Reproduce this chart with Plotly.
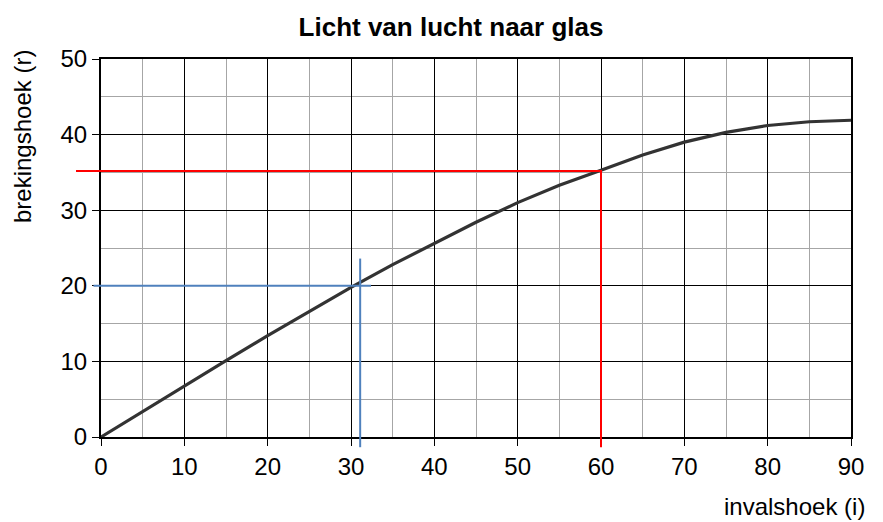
import plotly.graph_objects as go

# Data
incidence = [0, 5, 10, 15, 20, 25, 30, 35, 40, 45, 50, 55, 60, 65, 70, 75, 80, 85, 90]
refraction = [0, 3.4, 6.7, 10.1, 13.4, 16.6, 19.8, 22.8, 25.6, 28.4, 31.0, 33.3, 35.3, 37.3, 39.0, 40.3, 41.2, 41.7, 41.9]

red_i, red_r = 60, 35.2
blue_i, blue_r = 31.1, 20
blue_top = 23.6
blue_right = 32.4
red_left = -3.0
blue_left = -0.9
guide_bottom = -1.35

x_ticks = [0, 10, 20, 30, 40, 50, 60, 70, 80, 90]
y_ticks = [0, 10, 20, 30, 40, 50]

W, H = 883, 522
ML, MR, MT, MB = 50, 15, 30, 55
PX0, PX1, PY0, PY1 = 101, 851, 59, 437  # plot area pixel box
pw, ph = W - ML - MR, H - MT - MB
xd = [(PX0 - ML) / pw, (PX1 - ML) / pw]
yd = [(H - MB - PY1) / ph, (H - MB - PY0) / ph]

xr = [0, 90]
yr = [0, 50]


def ext(r, d):
    span = (r[1] - r[0]) / (d[1] - d[0])
    return [r[0] - d[0] * span, r[1] + (1 - d[1]) * span]


xr2 = ext(xr, xd)
yr2 = ext(yr, yd)

font = "Arial, Liberation Sans, sans-serif"
FS = 24

fig = go.Figure()
fig.add_trace(go.Scatter(x=incidence, y=refraction, mode="lines",
                         line=dict(color="#333333", width=3.2), hoverinfo="skip",
                         showlegend=False))

# guide lines on overlay axes (same scale, larger area so they are not clipped)
fig.add_trace(go.Scatter(x=[red_left, red_i, red_i], y=[red_r, red_r, guide_bottom],
                         mode="lines", line=dict(color="#ff0000", width=2),
                         xaxis="x2", yaxis="y2", showlegend=False, hoverinfo="skip"))
fig.add_trace(go.Scatter(x=[blue_left, blue_right], y=[blue_r, blue_r],
                         mode="lines", line=dict(color="#4f81bd", width=2),
                         xaxis="x2", yaxis="y2", showlegend=False, hoverinfo="skip"))
fig.add_trace(go.Scatter(x=[blue_i, blue_i], y=[blue_top, guide_bottom],
                         mode="lines", line=dict(color="#4f81bd", width=2),
                         xaxis="x2", yaxis="y2", showlegend=False, hoverinfo="skip"))

axis_common = dict(showline=True, linecolor="black", linewidth=2, mirror=True,
                   showgrid=True, gridcolor="black", gridwidth=1.3, automargin=False,
                   ticks="outside", ticklen=7, tickcolor="black", tickwidth=1,
                   zeroline=False, tickfont=dict(family=font, size=FS, color="black"),
                   minor=dict(dtick=5, showgrid=True, gridcolor="#a6a6a6", gridwidth=1.3, ticks=""))

fig.update_layout(
    width=W, height=H,
    margin=dict(l=ML, r=MR, t=MT, b=MB),
    paper_bgcolor="white", plot_bgcolor="rgba(0,0,0,0)",
    title=dict(text="<b>Licht van lucht naar glas</b>", x=451 / W, xanchor="center",
               y=1 - 27 / H, yanchor="middle", font=dict(family=font, size=26, color="black")),
    xaxis=dict(domain=xd, range=xr, tickvals=x_ticks, **axis_common),
    yaxis=dict(domain=yd, range=yr, tickvals=y_ticks, **axis_common),
    xaxis2=dict(domain=[0, 1], range=xr2, visible=False, anchor="y2", automargin=False),
    yaxis2=dict(domain=[0, 1], range=yr2, visible=False, anchor="x2", automargin=False),
    annotations=[
        dict(text="brekingshoek (r)", xref="paper", yref="paper",
             x=(22 - ML) / pw, y=(H - MB - 137) / ph, textangle=-90, showarrow=False,
             xanchor="center", yanchor="middle", font=dict(family=font, size=FS, color="black")),
        dict(text="invalshoek (i)", xref="paper", yref="paper",
             x=(867 - ML) / pw, y=(H - MB - 507) / ph, showarrow=False,
             xanchor="right", yanchor="middle", font=dict(family=font, size=FS, color="black")),
    ],
)

fig.write_html("out.html", config={"displayModeBar": False},
               post_script="document.body.style.margin='0';document.body.style.overflow='hidden';")
